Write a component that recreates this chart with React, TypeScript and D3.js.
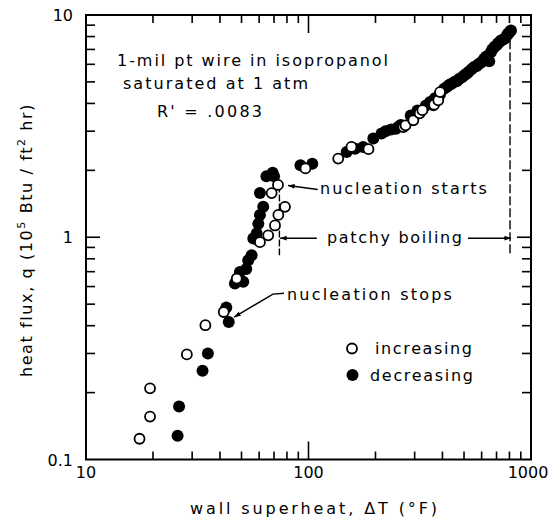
import React from "react";
import * as d3 from "d3";

// ---- data ----
const increasingDT = [
  17.4, 19.4, 19.4, 28.4, 34.4, 41.6,
  47.6, 60.5, 65.9, 70.7, 73.2, 78.4, 68.3, 72.9,
  96.9, 136, 156, 186,
  267, 273, 296, 316, 325, 364, 367, 383, 390,
];
const increasingQ = [
  0.124, 0.156, 0.209, 0.297, 0.402, 0.461,
  0.652, 0.95, 1.02, 1.13, 1.26, 1.37, 1.58, 1.72,
  2.04, 2.26, 2.55, 2.49,
  3.13, 3.19, 3.36, 3.61, 3.73, 3.92, 3.95, 4.13, 4.5,
];
const decreasingDT = [
  25.8, 26.2, 33.4, 35.3, 42.7, 43.8,
  46.7, 49.2, 50.9, 52.5, 53.6, 55.5, 56.5, 58.5, 59.5, 60.5, 62.6, 60.5,
  64.7, 69, 70,
  92, 104, 148.5, 162, 176, 195.6, 213, 222, 235, 247, 255, 260, 288, 309, 337,
  352, 370, 390, 407, 420, 430, 440, 452, 465, 475, 490, 501, 515, 525, 540, 555,
  570, 580, 595, 605, 616, 630, 649, 660, 670,
  684, 700, 710, 720, 733, 750, 764, 780, 790, 799, 813,
];
const decreasingQ = [
  0.128, 0.173, 0.251, 0.300, 0.483, 0.416,
  0.619, 0.698, 0.63, 0.72, 0.788, 0.83, 0.987, 1.04, 1.15, 1.26, 1.37, 1.58,
  1.88, 1.95, 1.88,
  2.11, 2.14, 2.42, 2.5, 2.55, 2.78, 2.93, 3.0, 3.05, 3.08, 3.15, 3.2, 3.53, 3.72, 3.92,
  4.06, 4.22, 4.4, 4.66, 4.75, 4.85, 4.9, 4.99, 5.05, 5.15, 5.25, 5.35, 5.45, 5.55, 5.7, 5.83,
  5.9, 6.0, 6.1, 6.2, 6.35, 6.5, 6.2, 6.8, 7.0,
  7.17, 7.3, 7.45, 7.55, 7.68, 7.75, 7.83, 8.1, 8.25, 8.37, 8.51,
];

const xTickLabels = ["10", "100", "1000"];
const yTickLabels = ["0.1", "1", "10"];

const titleLines = ["1-mil pt wire in isopropanol", "saturated at 1 atm", "R' = .0083"];
const legendLabels = ["increasing", "decreasing"];

const W = 557;
const H = 521;
const FONT = "'DejaVu Sans', sans-serif";

export default function App() {
  const x = d3.scaleLog().domain([10, 1000]).range([86, 531]);
  const y = d3.scaleLog().domain([0.1, 10]).range([459.5, 15]);
  const [x0, x1] = x.range();
  const [y0, y1] = y.range();

  const isMajor = (v: number) => Math.abs(Math.log10(v) - Math.round(Math.log10(v))) < 1e-9;
  const xt = x.ticks().filter((v) => v > 10 && v < 1000);
  const yt = y.ticks().filter((v) => v > 0.1 && v < 10);
  const minorLen = 8;
  const majorLen = 18;

  const arrowHead = (ax: number, ay: number, bx: number, by: number, size = 7) => {
    const ang = Math.atan2(by - ay, bx - ax);
    const p1 = [bx - size * Math.cos(ang - 0.35), by - size * Math.sin(ang - 0.35)];
    const p2 = [bx - size * Math.cos(ang + 0.35), by - size * Math.sin(ang + 0.35)];
    return `M${bx},${by}L${p1[0]},${p1[1]}L${p2[0]},${p2[1]}Z`;
  };

  const line = d3.line<[number, number]>().x((d) => x(d[0])).y((d) => y(d[1]));

  // annotation anchors in data units
  const startsArrow: [number, number][] = [[110, 1.64], [80.9, 1.71]];
  const stopsArrow: [number, number][] = [[77.6, 0.56], [69.2, 0.555], [46.3, 0.437]];
  const patchyLeft: [number, number][] = [[109, 0.99], [74.5, 0.99]];
  const patchyRight: [number, number][] = [[521, 0.99], [813, 0.99]];
  const vLeft: [number, number][] = [[74, 1.71], [74, 0.83]];
  const vRight: [number, number][] = [[805, 7.69], [805, 0.847]];

  const head = (pts: [number, number][]) => {
    const a = pts[pts.length - 2];
    const b = pts[pts.length - 1];
    return arrowHead(x(a[0]), y(a[1]), x(b[0]), y(b[1]));
  };

  const inc = increasingDT.map((d, i) => [d, increasingQ[i]]);
  const dec = decreasingDT.map((d, i) => [d, decreasingQ[i]]);

  return (
    <svg width={W} height={H} style={{ position: "absolute", left: 0, top: 0, background: "#fff" }} fontFamily={FONT}>
      <rect x={0} y={0} width={W} height={H} fill="#fff" />
      {/* frame */}
      <rect x={x0} y={y1} width={x1 - x0} height={y0 - y1} fill="none" stroke="#000" strokeWidth={2} />
      {/* x ticks top & bottom */}
      {xt.map((v, i) => {
        const L = isMajor(v) ? majorLen : minorLen;
        return (
          <g key={"xt" + i} stroke="#000" strokeWidth={1.6}>
            <line x1={x(v)} x2={x(v)} y1={y0} y2={y0 - L} />
            <line x1={x(v)} x2={x(v)} y1={y1} y2={y1 + L} />
          </g>
        );
      })}
      {yt.map((v, i) => {
        const L = isMajor(v) ? majorLen - 4 : minorLen + 1;
        return (
          <g key={"yt" + i} stroke="#000" strokeWidth={1.6}>
            <line x1={x0} x2={x0 + L} y1={y(v)} y2={y(v)} />
            <line x1={x1} x2={x1 - L} y1={y(v)} y2={y(v)} />
          </g>
        );
      })}
      {/* tick labels */}
      {xTickLabels.map((t) => (
        <text key={"xl" + t} x={x(+t) - (t === "1000" ? 3 : 0)} y={y0 + 18} fontSize={16} textAnchor="middle">
          {t}
        </text>
      ))}
      {yTickLabels.map((t) => (
        <text key={"yl" + t} x={x0 - 13} y={y(+t) + 6} fontSize={16} textAnchor="end">
          {t}
        </text>
      ))}
      {/* axis titles */}
      <text x={190} y={514} fontSize={16} textLength={247} lengthAdjust="spacing">
        wall superheat, ΔT (°F)
      </text>
      <text transform="translate(32,240) rotate(-90)" fontSize={16} textAnchor="middle" letterSpacing={1.6}>
        heat flux, q (10
        <tspan fontSize={11} dy={-7}>5</tspan>
        <tspan dy={7}> Btu / ft</tspan>
        <tspan fontSize={11} dy={-7}>2</tspan>
        <tspan dy={7}> hr)</tspan>
      </text>
      {/* title text */}
      <text x={117} y={66} fontSize={16} textLength={271} lengthAdjust="spacing">{titleLines[0]}</text>
      <text x={123} y={89} fontSize={16} textLength={185} lengthAdjust="spacing">{titleLines[1]}</text>
      <text x={157} y={117} fontSize={16} textLength={105} lengthAdjust="spacing">{titleLines[2]}</text>

      {/* annotations */}
      <g stroke="#000" fill="none" strokeWidth={1.4}>
        <path d={line(vLeft) || ""} strokeDasharray="7,2" />
        <path d={line(vRight) || ""} strokeDasharray="9,3" />
        <path d={line(startsArrow) || ""} />
        <path d={line(stopsArrow) || ""} />
        <path d={line(patchyLeft) || ""} />
        <path d={line(patchyRight) || ""} />
      </g>
      <g fill="#000">
        <path d={head(startsArrow)} />
        <path d={head(stopsArrow)} />
        <path d={head(patchyLeft)} />
        <path d={head(patchyRight)} />
      </g>
      <text x={x(112.6)} y={y(1.56)} fontSize={16} textLength={167} lengthAdjust="spacing">nucleation starts</text>
      <text x={327} y={y(0.94)} fontSize={16} textLength={135} lengthAdjust="spacing">patchy boiling</text>
      <text x={x(80)} y={y(0.52)} fontSize={16} textLength={165} lengthAdjust="spacing">nucleation stops</text>

      {/* data */}
      {dec.map((d, i) => (
        <circle key={"d" + i} cx={x(d[0])} cy={y(d[1])} r={6} fill="#000" />
      ))}
      {inc.map((d, i) => (
        <circle key={"i" + i} cx={x(d[0])} cy={y(d[1])} r={5} fill="#fff" stroke="#000" strokeWidth={1.8} />
      ))}

      {/* legend */}
      <circle cx={352} cy={348.5} r={5} fill="#fff" stroke="#000" strokeWidth={1.8} />
      <text x={375} y={354} fontSize={16} textLength={97} lengthAdjust="spacing">{legendLabels[0]}</text>
      <circle cx={352.5} cy={375} r={6} fill="#000" />
      <text x={370} y={381} fontSize={16} textLength={103} lengthAdjust="spacing">{legendLabels[1]}</text>
    </svg>
  );
}
